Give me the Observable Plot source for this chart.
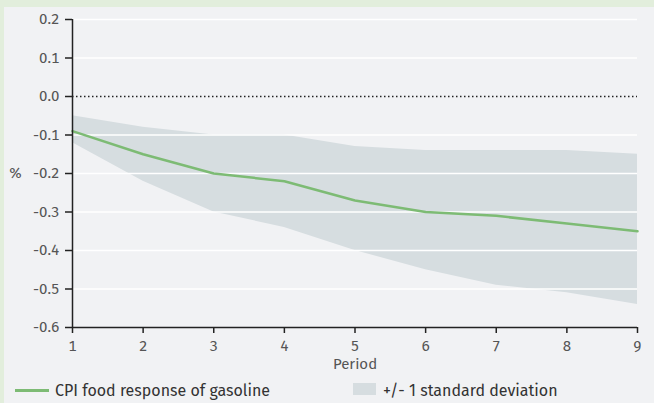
<!DOCTYPE html>
<html>
<head>
<meta charset="utf-8">
<script src="https://cdn.jsdelivr.net/npm/d3@7"></script>
<script src="https://cdn.jsdelivr.net/npm/@observablehq/plot@0.6"></script>
<style>
  html, body { margin: 0; padding: 0; }
  body {
    width: 654px; height: 403px; box-sizing: border-box;
    background: #f1f2f4;
    border-top: 7px solid #e2eedc;
    border-left: 4px solid #e2eedc;
    position: relative; overflow: hidden;
    font-family: "Fira Sans", Roboto, "Noto Sans", sans-serif;
    color: #444;
  }
  #chart { position: absolute; left: 0; top: 0; }
  .leg { position: absolute; font-size: 16px; color: #333; line-height: 18px; white-space: nowrap; }
  .sw-line { position: absolute; width: 34px; height: 3px; background: #7dbb74; }
  .sw-box { position: absolute; width: 23px; height: 12px; background: #d6dde0; }
</style>
</head>
<body>
<div id="chart"></div>
<div class="sw-line" style="left:11px; top:382px;"></div>
<div class="leg" style="left:51px; top:375px;">CPI food response of gasoline</div>
<div class="sw-box" style="left:349px; top:376px;"></div>
<div class="leg" style="left:379px; top:375px;">+/- 1 standard deviation</div>
<script>
const periods  = [1, 2, 3, 4, 5, 6, 7, 8, 9];
const response = [-0.09, -0.15, -0.20, -0.22, -0.27, -0.30, -0.31, -0.33, -0.35];
const upper    = [-0.05, -0.08, -0.10, -0.10, -0.13, -0.14, -0.14, -0.14, -0.15];
const lower    = [-0.12, -0.22, -0.30, -0.34, -0.40, -0.45, -0.49, -0.51, -0.54];
const yTicks   = [0.2, 0.1, 0.0, -0.1, -0.2, -0.3, -0.4, -0.5, -0.6];
const xTicks   = [1, 2, 3, 4, 5, 6, 7, 8, 9];

const data = periods.map((p, i) => ({period: p, response: response[i], upper: upper[i], lower: lower[i]}));
const gridTicks = yTicks.filter(t => t !== 0 && t !== -0.6);
const fmt = d => (Math.abs(d) < 1e-9 ? 0 : d).toFixed(1);
const FONT = 15;
const TXT = "#555";

const chart = Plot.plot({
  width: 650,
  height: 365,
  marginLeft: 68,
  marginRight: 17,
  marginTop: 12,
  marginBottom: 45,
  style: {background: "transparent", fontFamily: "'Fira Sans', Roboto, 'Noto Sans', sans-serif", fontSize: "15px", color: TXT, overflow: "visible"},
  x: {domain: [1, 9]},
  y: {domain: [-0.6, 0.2]},
  marks: [
    Plot.areaY(data, {x: "period", y1: "lower", y2: "upper", fill: "#d6dde0"}),
    Plot.ruleY(gridTicks, {stroke: "#ffffff", strokeWidth: 1.5}),
    Plot.ruleY([0], {stroke: "#222", strokeWidth: 1.5, strokeDasharray: "1.5,2.5"}),
    Plot.lineY(data, {x: "period", y: "response", stroke: "#7dbb74", strokeWidth: 2.5}),
    Plot.ruleX([1], {stroke: "#222", strokeWidth: 1.5}),
    Plot.ruleY([-0.6], {stroke: "#222", strokeWidth: 1.5}),
    Plot.axisY({ticks: yTicks, tickFormat: fmt, tickSize: 7, tickPadding: 6, label: null, stroke: "#222", strokeWidth: 1.5, fill: TXT, fontSize: FONT}),
    Plot.axisX({ticks: xTicks, tickFormat: d => String(d), tickSize: 6, tickPadding: 6.5, label: null, stroke: "#222", strokeWidth: 1.5, fill: TXT, fontSize: FONT}),
    Plot.text(["%"], {frameAnchor: "left", dx: -57, textAnchor: "middle", fill: TXT, fontSize: FONT}),
    Plot.text(["Period"], {frameAnchor: "bottom", dy: 41.5, textAnchor: "middle", fill: TXT, fontSize: FONT})
  ]
});
document.getElementById("chart").appendChild(chart);
</script>
</body>
</html>
